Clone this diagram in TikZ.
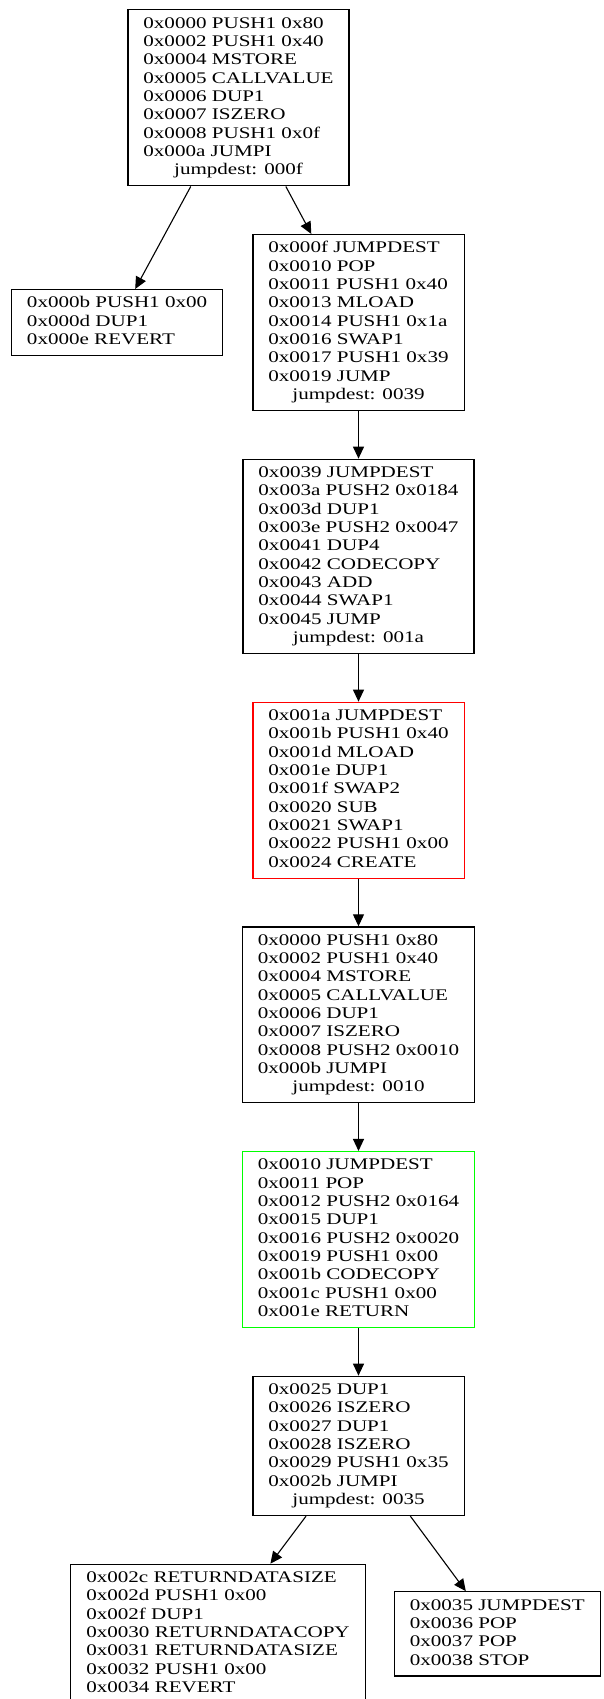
\documentclass[tikz,border=0pt]{standalone}
\usepackage{fontspec}
\setmainfont{Liberation Serif}[FakeStretch=1.30]
\usetikzlibrary{arrows.meta, positioning}
\newcommand{\jumpdest}[1]{\multicolumn{1}{@{}c@{}}{jumpdest: #1}}

\begin{document}
\begin{tikzpicture}[x=1pt, y=1pt, node distance=47.5pt,
  block/.style={draw, line width=1.2pt, inner xsep=15.5pt, inner ysep=5.5pt, font=\fontsize{16.2}{18.33}\selectfont},
  flow/.style={-{Triangle[length=12pt, width=11pt]}, line width=1.1pt}]
  \useasboundingbox (0,0) rectangle (604,-1699);
  \node (start) [block, anchor=north] at (238.5,-9.3)
    {\begin{tabular}{@{}l@{}}0x0000 PUSH1 0x80\\0x0002 PUSH1 0x40\\0x0004 MSTORE\\0x0005 CALLVALUE\\0x0006 DUP1\\0x0007 ISZERO\\0x0008 PUSH1 0x0f\\0x000a JUMPI\\\jumpdest{000f}\end{tabular}};
  \node (jd0f) [block, below=of start, xshift=120pt]
    {\begin{tabular}{@{}l@{}}0x000f JUMPDEST\\0x0010 POP\\0x0011 PUSH1 0x40\\0x0013 MLOAD\\0x0014 PUSH1 0x1a\\0x0016 SWAP1\\0x0017 PUSH1 0x39\\0x0019 JUMP\\\jumpdest{0039}\end{tabular}};
  \node (revert1) [block, left=29pt of jd0f]
    {\begin{tabular}{@{}l@{}}0x000b PUSH1 0x00\\0x000d DUP1\\0x000e REVERT\end{tabular}};
  \node (jd39) [block, below=of jd0f]
    {\begin{tabular}{@{}l@{}}0x0039 JUMPDEST\\0x003a PUSH2 0x0184\\0x003d DUP1\\0x003e PUSH2 0x0047\\0x0041 DUP4\\0x0042 CODECOPY\\0x0043 ADD\\0x0044 SWAP1\\0x0045 JUMP\\\jumpdest{001a}\end{tabular}};
  \node (create) [block, draw=red, below=of jd39]
    {\begin{tabular}{@{}l@{}}0x001a JUMPDEST\\0x001b PUSH1 0x40\\0x001d MLOAD\\0x001e DUP1\\0x001f SWAP2\\0x0020 SUB\\0x0021 SWAP1\\0x0022 PUSH1 0x00\\0x0024 CREATE\end{tabular}};
  \node (init) [block, below=of create]
    {\begin{tabular}{@{}l@{}}0x0000 PUSH1 0x80\\0x0002 PUSH1 0x40\\0x0004 MSTORE\\0x0005 CALLVALUE\\0x0006 DUP1\\0x0007 ISZERO\\0x0008 PUSH2 0x0010\\0x000b JUMPI\\\jumpdest{0010}\end{tabular}};
  \node (jd10) [block, draw=green, below=of init]
    {\begin{tabular}{@{}l@{}}0x0010 JUMPDEST\\0x0011 POP\\0x0012 PUSH2 0x0164\\0x0015 DUP1\\0x0016 PUSH2 0x0020\\0x0019 PUSH1 0x00\\0x001b CODECOPY\\0x001c PUSH1 0x00\\0x001e RETURN\end{tabular}};
  \node (jd25) [block, below=of jd10]
    {\begin{tabular}{@{}l@{}}0x0025 DUP1\\0x0026 ISZERO\\0x0027 DUP1\\0x0028 ISZERO\\0x0029 PUSH1 0x35\\0x002b JUMPI\\\jumpdest{0035}\end{tabular}};
  \node (revert2) [block, below=of jd25, xshift=-140.5pt]
    {\begin{tabular}{@{}l@{}}0x002c RETURNDATASIZE\\0x002d PUSH1 0x00\\0x002f DUP1\\0x0030 RETURNDATACOPY\\0x0031 RETURNDATASIZE\\0x0032 PUSH1 0x00\\0x0034 REVERT\end{tabular}};
  \node (stop) [block, right=28pt of revert2]
    {\begin{tabular}{@{}l@{}}0x0035 JUMPDEST\\0x0036 POP\\0x0037 POP\\0x0038 STOP\end{tabular}};

  \draw [flow] (start) -- (revert1);
  \draw [flow] (start) -- (jd0f);
  \draw [flow] (jd0f) -- (jd39);
  \draw [flow] (jd39) -- (create);
  \draw [flow] (create) -- (init);
  \draw [flow] (init) -- (jd10);
  \draw [flow] (jd10) -- (jd25);
  \draw [flow] (jd25) -- (revert2);
  \draw [flow] (jd25) -- (stop);
\end{tikzpicture}
\end{document}
